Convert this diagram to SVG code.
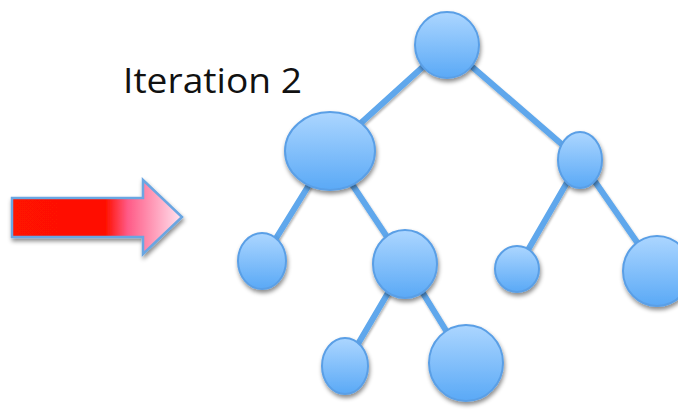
<svg xmlns="http://www.w3.org/2000/svg" width="678" height="410" viewBox="0 0 678 410">
<defs>
<linearGradient id="nodeGrad" x1="0" y1="0" x2="0" y2="1">
<stop offset="0" stop-color="#acd6ff"/>
<stop offset="1" stop-color="#5aa9f6"/>
</linearGradient>
<linearGradient id="arrowGrad" x1="12" y1="0" x2="182" y2="0" gradientUnits="userSpaceOnUse">
<stop offset="0" stop-color="#ff1200"/>
<stop offset="0.55" stop-color="#ff1000"/>
<stop offset="0.68" stop-color="#ff5a86"/>
<stop offset="1" stop-color="#ffe4f0"/>
</linearGradient>
<filter id="shadow" x="-30%" y="-30%" width="160%" height="170%">
<feDropShadow dx="1" dy="3" stdDeviation="2" flood-color="#000" flood-opacity="0.45"/>
</filter>
<filter id="lshadow" x="-10%" y="-10%" width="120%" height="120%">
<feDropShadow dx="1" dy="2" stdDeviation="1.2" flood-color="#000" flood-opacity="0.3"/>
</filter>
</defs>
<style>
.node{fill:url(#nodeGrad);stroke:#5a9fe6;stroke-width:2;filter:url(#shadow)}
.edge{stroke:#5ea7ec;stroke-width:6;stroke-linecap:round;fill:none}
.label{font-family:"Open Sans","Liberation Sans",sans-serif;font-size:34px;fill:#111}
</style>
<g id="arrow" filter="url(#shadow)">
<path d="M12,198 L143,198 L143,180 L182,217 L143,254 L143,237 L12,237 Z" fill="url(#arrowGrad)" stroke="#6aa6e2" stroke-width="2.5" stroke-linejoin="miter"/>
</g>
<g id="title">
<text class="label" x="123" y="93" textLength="179" lengthAdjust="spacingAndGlyphs">Iteration 2</text>
</g>
<g id="connectors" filter="url(#lshadow)">
<line class="edge" x1="447" y1="45" x2="330" y2="151"/>
<line class="edge" x1="447" y1="45" x2="580" y2="160"/>
<line class="edge" x1="330" y1="151" x2="262" y2="261"/>
<line class="edge" x1="330" y1="151" x2="405" y2="264"/>
<line class="edge" x1="405" y1="264" x2="345" y2="366"/>
<line class="edge" x1="405" y1="264" x2="466" y2="363"/>
<line class="edge" x1="580" y1="160" x2="517" y2="269"/>
<line class="edge" x1="580" y1="160" x2="657" y2="271"/>
</g>
<g id="n-root"><ellipse class="node" cx="447" cy="45" rx="32" ry="33"/></g>
<g id="n-left"><ellipse class="node" cx="330" cy="151" rx="45" ry="39"/></g>
<g id="n-right"><ellipse class="node" cx="580" cy="160" rx="22" ry="28"/></g>
<g id="n-left-left"><ellipse class="node" cx="262" cy="261" rx="24" ry="28"/></g>
<g id="n-left-right"><ellipse class="node" cx="405" cy="264" rx="32" ry="34"/></g>
<g id="n-lr-left"><ellipse class="node" cx="345" cy="366" rx="23" ry="28"/></g>
<g id="n-lr-right"><ellipse class="node" cx="466" cy="363" rx="37" ry="38"/></g>
<g id="n-right-left"><ellipse class="node" cx="517" cy="269" rx="22" ry="23"/></g>
<g id="n-right-right"><ellipse class="node" cx="657" cy="271" rx="34" ry="35"/></g>
</svg>
